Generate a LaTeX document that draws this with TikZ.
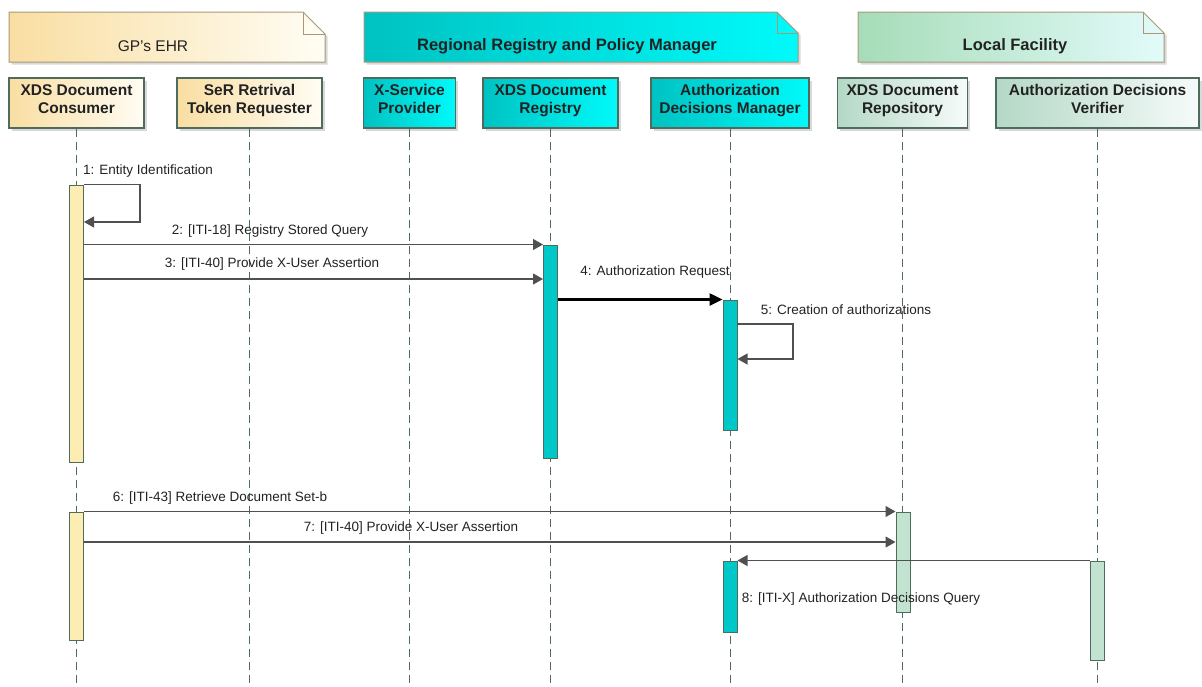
\documentclass[tikz,border=0pt]{standalone}
\usepackage{fontspec}
\setmainfont{Liberation Sans}
\usetikzlibrary{arrows.meta,shadows}

\definecolor{lineC}{HTML}{4E6B5C}
\definecolor{pkgC}{HTML}{A89878}
\definecolor{txtC}{HTML}{222222}
\definecolor{msgC}{HTML}{505050}
\definecolor{yelL}{HTML}{F9DEA2}
\definecolor{yelR}{HTML}{FFFDF4}
\definecolor{yelAct}{HTML}{FDEDB2}
\definecolor{cyanL}{HTML}{00C2C2}
\definecolor{cyanR}{HTML}{00FAFA}
\definecolor{cyanAct}{HTML}{00C8C8}
\definecolor{grnL}{HTML}{A6DCB8}
\definecolor{grnR}{HTML}{E2FBFA}
\definecolor{grnHeadL}{HTML}{B4D8C6}
\definecolor{grnHeadR}{HTML}{F6FBFA}
\definecolor{grnAct}{HTML}{C3E3D1}

\begin{document}
\begin{tikzpicture}
[every node/.style={inner sep=0pt},
 shade2/.style={drop shadow={shadow xshift=2.5pt, shadow yshift=-2.5pt, opacity=0.3}},
 pkg/.style={draw=pkgC, line width=1pt, shade2},
 pkgtitle/.style={font=\fontsize{16.5}{19}\selectfont\bfseries, text=txtC},
 head/.style={rectangle, draw=lineC, line width=1.1pt, minimum height=50pt, align=center, text depth=8pt, font=\fontsize{15.5}{18.5}\selectfont\bfseries, text=txtC, shade2},
 act/.style={rectangle, draw=lineC, line width=1pt, minimum width=14pt},
 life/.style={draw=lineC, line width=1pt, dash pattern=on 8pt off 5pt},
 msg/.style={draw=msgC, line width=1.1pt, -{Triangle[length=10pt,width=11pt]}},
 msglabel/.style={font=\fontsize{13.5}{16}\selectfont, text=txtC}]
\useasboundingbox (0pt,0pt) rectangle (1202pt,-686pt);
\coordinate (bottom) at (0pt,-686pt);

% packages
\path [pkg, left color=yelL, right color=yelR] (9pt,-12pt) -- (303pt,-12pt) -- (325pt,-34pt) -- (325pt,-62pt) -- (9pt,-62pt) -- cycle;
\draw [draw=pkgC, line width=1pt] (303pt,-12pt) -- (303pt,-34pt) -- (325pt,-34pt);
\node (ehr) [font=\fontsize{15.5}{18}\selectfont, text=txtC] at (153pt,-46pt) {GP's EHR};
\path [pkg, left color=cyanL, right color=cyanR] (364pt,-12pt) -- (777pt,-12pt) -- (798pt,-33pt) -- (798pt,-62pt) -- (364pt,-62pt) -- cycle;
\draw [draw=pkgC, line width=1pt] (777pt,-12pt) -- (777pt,-33pt) -- (798pt,-33pt);
\node (rrpm) [pkgtitle] at (567pt,-46pt) {Regional Registry and Policy Manager};
\path [pkg, left color=grnL, right color=grnR] (858pt,-12pt) -- (1143pt,-12pt) -- (1164pt,-33pt) -- (1164pt,-62pt) -- (858pt,-62pt) -- cycle;
\draw [draw=pkgC, line width=1pt] (1143pt,-12pt) -- (1143pt,-33pt) -- (1164pt,-33pt);
\node (local) [pkgtitle] at (1015pt,-46pt) {Local Facility};

% lifeline heads
\node (cons) [head, minimum width=135pt, left color=yelL, right color=yelR] at (76.5pt,-103pt) {XDS Document\\Consumer};
\node (ser) [head, minimum width=145pt, left color=yelL, right color=yelR] at (249.5pt,-103pt) {SeR Retrival\\Token Requester};
\node (xsp) [head, minimum width=92pt, left color=cyanL, right color=cyanR] at (409.5pt,-103pt) {X-Service\\Provider};
\node (reg) [head, minimum width=135pt, left color=cyanL, right color=cyanR] at (550.5pt,-103pt) {XDS Document\\Registry};
\node (adm) [head, minimum width=158pt, left color=cyanL, right color=cyanR] at (730pt,-103pt) {Authorization\\Decisions Manager};
\node (repo) [head, minimum width=130pt, left color=grnHeadL, right color=grnHeadR] at (902.5pt,-103pt) {XDS Document\\Repository};
\node (ver) [head, minimum width=203pt, left color=grnHeadL, right color=grnHeadR] at (1097.5pt,-103pt) {Authorization Decisions\\Verifier};

% lifelines
\foreach \h in {cons,ser,xsp,reg,adm,repo,ver}
  \draw [life] (\h.south) -- (\h.south |- bottom);

% activations
\node (consA1) [act, fill=yelAct, minimum height=277pt] at (76.5pt,-323.5pt) {};
\node (consA2) [act, fill=yelAct, minimum height=128pt] at (76.5pt,-576pt) {};
\node (regA) [act, fill=cyanAct, minimum height=213pt] at (550.5pt,-351.5pt) {};
\node (admA1) [act, fill=cyanAct, minimum height=130pt] at (730pt,-365pt) {};
\node (admA2) [act, fill=cyanAct, minimum height=71pt] at (730pt,-596.5pt) {};
\node (repA) [act, fill=grnAct, minimum height=100pt] at (903pt,-562pt) {};
\node (verA) [act, fill=grnAct, minimum height=99pt] at (1097.5pt,-610.5pt) {};

% messages
\coordinate (m1) at (140pt,-222pt);
\coordinate (m3) at (543pt,-279pt);
\coordinate (m5a) at (737pt,-324pt);
\coordinate (m5) at (793pt,-359pt);
\coordinate (m7) at (896pt,-542pt);
\draw [msg] (consA1.north east) -| (m1) -- (consA1.east |- m1);
\draw [msg] (consA1.east |- regA.north) -- (regA.north west);
\draw [msg] (consA1.east |- m3) -- (regA.west |- m3);
\draw [msg, draw=black, line width=2.5pt, -{Triangle[length=13pt,width=12pt]}] (regA.east |- admA1.north) -- (admA1.north west);
\draw [msg] (m5a) -| (m5) -- (admA1.east |- m5);
\draw [msg] (consA2.north east) -- (repA.north west);
\draw [msg] (consA2.east |- m7) -- (repA.west |- m7);
\draw [msg] (verA.north west) -- (admA2.north east);

% message labels
\node (lbl1) [msglabel] at (148pt,-171pt) {1: Entity Identification};
\node (lbl2) [msglabel] at (270pt,-231pt) {2: [ITI-18] Registry Stored Query};
\node (lbl3) [msglabel] at (272pt,-264pt) {3: [ITI-40] Provide X-User Assertion};
\node (lbl4) [msglabel] at (655pt,-272pt) {4: Authorization Request};
\node (lbl5) [msglabel] at (846pt,-310pt) {5: Creation of authorizations};
\node (lbl6) [msglabel] at (220pt,-498pt) {6: [ITI-43] Retrieve Document Set-b};
\node (lbl7) [msglabel] at (411pt,-528pt) {7: [ITI-40] Provide X-User Assertion};
\node (lbl8) [msglabel] at (861pt,-599pt) {8: [ITI-X] Authorization Decisions Query};
\end{tikzpicture}
\end{document}
